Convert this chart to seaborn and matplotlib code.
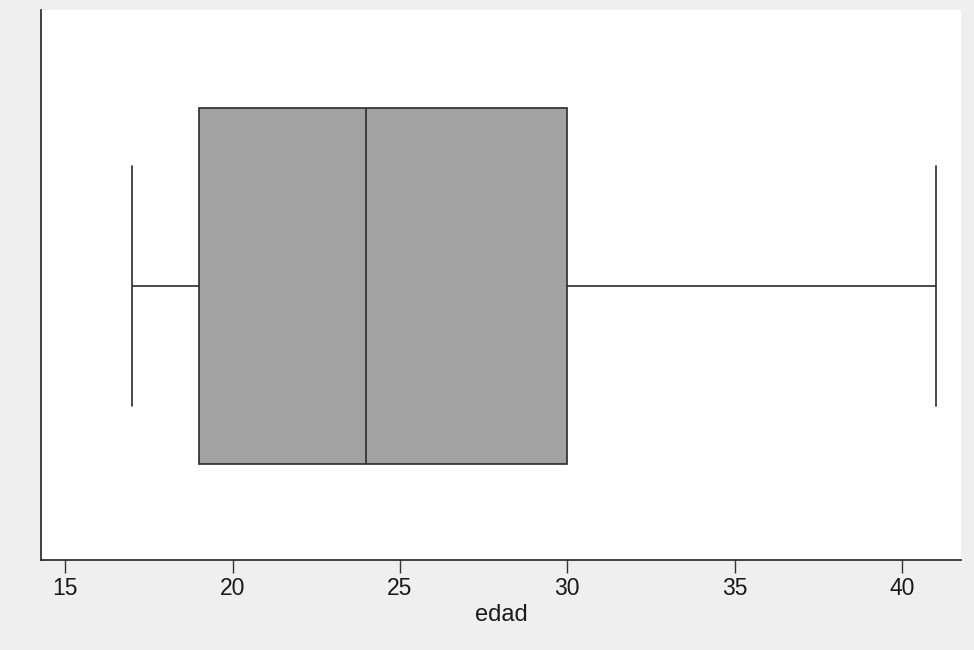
import matplotlib
matplotlib.use("Agg")
import matplotlib.pyplot as plt
import seaborn as sns
import pandas as pd

# Ages whose five-number summary matches the reference box (17, 19, 24, 30, 41)
edad = [17, 19, 19, 24, 30, 30, 41]
x_ticks = [15, 20, 25, 30, 35, 40]
x_label = "edad"

sns.set_style("white")
plt.rcParams['font.family'] = ['Liberation Sans', 'DejaVu Sans']

df = pd.DataFrame({"edad": edad})

fig = plt.figure(figsize=(9.74, 6.5), dpi=100, facecolor="#efefef")
ax = fig.add_axes([0.0421, 0.1385, 0.9446, 0.8461])
ax.set_facecolor("white")

sns.boxplot(data=df, x="edad", orient="h", width=0.8, whis=(0, 100),
            color="#a2a2a2", linecolor="#2b2b2b", linewidth=1.2,
            capwidths=0.54, ax=ax)

ax.set_xlim(14.28, 41.76)
ax.set_ylim(0.615, -0.62)
ax.set_yticks([])
ax.set_ylabel("")
ax.set_xticks(x_ticks)
ax.set_xticklabels([str(t) for t in x_ticks], fontsize=16.5, color="#1a1a1a")
ax.set_xlabel(x_label, fontsize=17, color="#1a1a1a", labelpad=3)
ax.tick_params(axis="x", direction="out", length=9, width=1, color="#333333", pad=3,
               bottom=True)

for s in ["top", "right"]:
    ax.spines[s].set_visible(False)
for s in ["left", "bottom"]:
    ax.spines[s].set_visible(True)
    ax.spines[s].set_color("#222222")
    ax.spines[s].set_linewidth(1.2)

fig.savefig("out.png", dpi=100, facecolor=fig.get_facecolor())
